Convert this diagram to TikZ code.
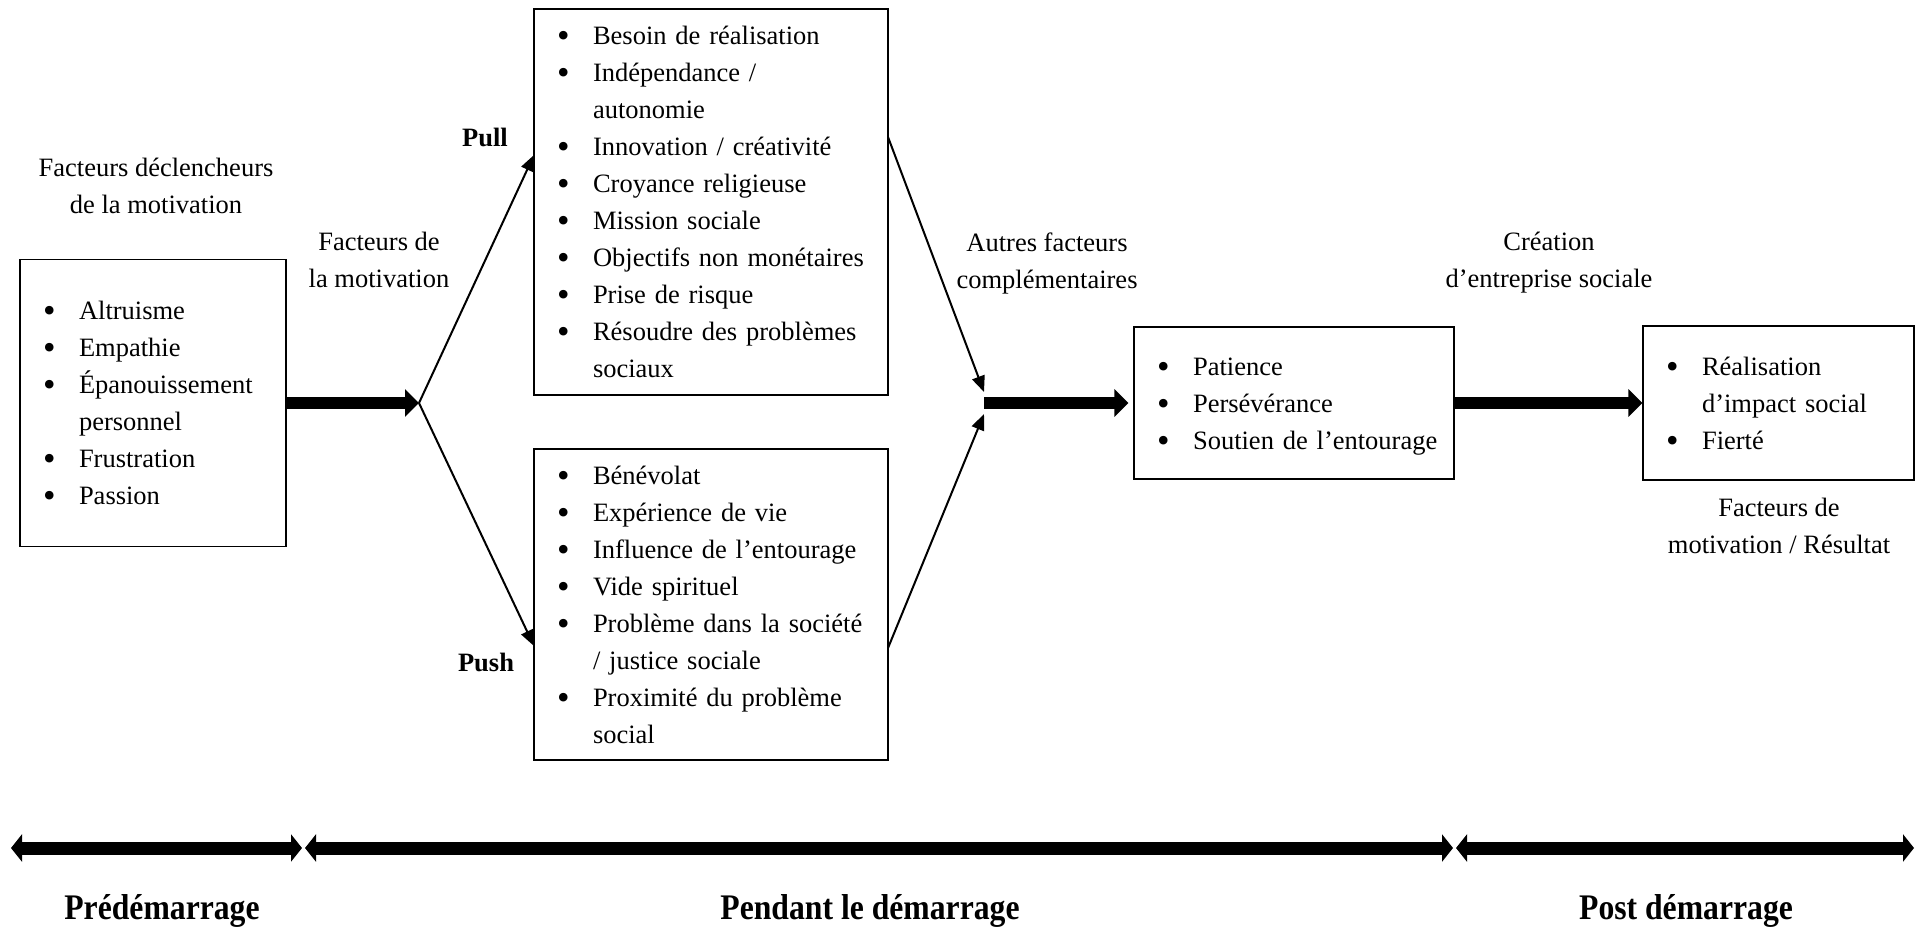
\documentclass[tikz,border=0pt]{standalone}
\usepackage{fontspec}
\usepackage{graphicx}
\setmainfont{Liberation Serif}
\usetikzlibrary{arrows.meta}
% line strut, bullet item and continuation line inside the list boxes
\newcommand{\lstrut}{\rule[-4.55pt]{0pt}{18.5pt}}
\newcommand{\bul}{\raisebox{-1.5pt}{\scalebox{1.35}{\textbullet}}}
\newcommand{\itm}[1]{\lstrut\makebox[18pt][l]{\bul}\mbox{#1}}
\newcommand{\cnt}[1]{\lstrut\hspace*{18pt}\mbox{#1}}
\newcommand{\phase}[1]{\scalebox{0.88}[1]{#1}}

\begin{document}
\begin{tikzpicture}[x=0.5pt,y=-0.5pt,
  basefont/.style={font=\fontsize{13.25pt}{18.5pt}\selectfont},
  lbl/.style={basefont, inner sep=0pt, align=center},
  boldlbl/.style={font=\fontsize{13.25pt}{18.5pt}\selectfont\bfseries, inner sep=0pt},
  phaselbl/.style={font=\fontsize{18pt}{20pt}\selectfont\bfseries, inner sep=0pt},
  listbox/.style={draw, line width=0.6pt, rectangle, basefont, align=left,
    inner xsep=11.5pt, inner ysep=0pt},
  thin arrow/.style={line width=1pt, -{Triangle[length=8pt,width=6.5pt]}},
  thick arrow/.style={line width=6pt, -{Triangle[length=7pt,width=13.5pt]}},
  phase arrow/.style={line width=6.5pt,
    {Triangle[length=5.5pt,width=13.5pt]}-{Triangle[length=5.5pt,width=13.5pt]}}]

\useasboundingbox (0,0) rectangle (1925,926);

% list boxes
\node[listbox, minimum width=133pt, minimum height=143.5pt, text width=110pt]
  (lbox) at (153,403) {\itm{Altruisme}\\ \itm{Empathie}\\ \itm{Épanouissement}\\
  \cnt{personnel}\\ \itm{Frustration}\\ \itm{Passion}};

\node[listbox, minimum width=177pt, minimum height=193pt, text width=154pt]
  (pull) at (711,202) {\itm{Besoin de réalisation}\\ \itm{Indépendance /}\\
  \cnt{autonomie}\\ \itm{Innovation / créativité}\\ \itm{Croyance religieuse}\\
  \itm{Mission sociale}\\ \itm{Objectifs non monétaires}\\ \itm{Prise de risque}\\
  \itm{Résoudre des problèmes}\\ \cnt{sociaux}};

\node[listbox, minimum width=177pt, minimum height=155.5pt, text width=154pt]
  (push) at (711,604.5) {\itm{Bénévolat}\\ \itm{Expérience de vie}\\
  \itm{Influence de l’entourage}\\ \itm{Vide spirituel}\\
  \itm{Problème dans la société}\\ \cnt{/ justice sociale}\\
  \itm{Proximité du problème}\\ \cnt{social}};

\node[listbox, minimum width=160pt, minimum height=76pt, text width=137pt]
  (mid) at (1294,403) {\itm{Patience}\\ \itm{Persévérance}\\ \itm{Soutien de l’entourage}};

\node[listbox, minimum width=135.5pt, minimum height=77pt, text width=112.5pt]
  (res) at (1778.5,403) {\itm{Réalisation}\\ \cnt{d’impact social}\\ \itm{Fierté}};

% captions
\node[lbl] (cDecl) at (156,186) {Facteurs déclencheurs\\de la motivation};
\node[lbl] (cMot) at (379,260) {Facteurs de\\la motivation};
\node[boldlbl] (cPull) at (485,137) {Pull};
\node[boldlbl] (cPush) at (486,662) {Push};
\node[lbl] (cAutres) at (1047,263) {Autres facteurs\\complémentaires};
\node[lbl] (cCrea) at (1549,263) {Création\\d’entreprise sociale};
\node[lbl] (cRes) at (1779,526) {Facteurs de\\motivation / Résultat};

% junction points of the connectors
\coordinate (br) at (419,403);
\coordinate (pullin) at (534,155);
\coordinate (pushin) at (534,646);
\coordinate (pullout) at (888,137);
\coordinate (pushout) at (888,648);
\coordinate (jt) at (984,392);
\coordinate (jb) at (984,414);
\coordinate (jm) at (984,403);

\draw[thick arrow] (lbox.east) -- (br);
\draw[thin arrow] (br) -- (pullin);
\draw[thin arrow] (br) -- (pushin);
\draw[thin arrow] (pullout) -- (jt);
\draw[thin arrow] (pushout) -- (jb);
\draw[thick arrow, shorten >=2.5pt] (jm) -- (mid.west);
\draw[thick arrow] (mid.east) -- (res.west);

% timeline
\coordinate (t0) at (11,848);
\coordinate (t1) at (302,848);
\coordinate (t2) at (305,848);
\coordinate (t3) at (1453,848);
\coordinate (t4) at (1456,848);
\coordinate (t5) at (1914,848);
\draw[phase arrow] (t0) -- (t1);
\draw[phase arrow] (t2) -- (t3);
\draw[phase arrow] (t4) -- (t5);

\node[phaselbl] (pPre) at (162,911) {\phase{Prédémarrage}};
\node[phaselbl] (pDur) at (870,911) {\phase{Pendant le démarrage}};
\node[phaselbl] (pPost) at (1686,911) {\phase{Post démarrage}};
\end{tikzpicture}
\end{document}
